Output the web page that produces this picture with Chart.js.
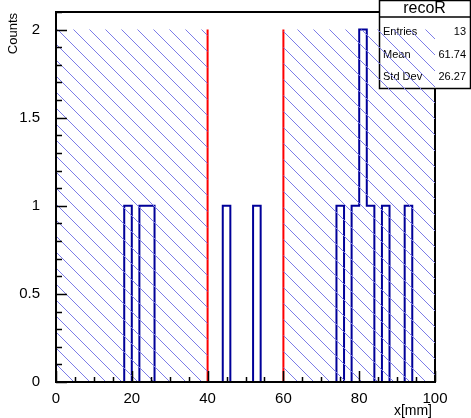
<!DOCTYPE html>
<html>
<head>
<meta charset="utf-8">
<script src="https://cdn.jsdelivr.net/npm/chart.js@4/dist/chart.umd.min.js"></script>
<style>
  html, body { margin: 0; padding: 0; background: #fff; }
  canvas { display: block; }
</style>
</head>
<body>
<canvas id="c" width="471" height="418"></canvas>
<script>
// histogram recoR: 50 bins of 2 mm over 0..100
const binWidth = 2;
const xMin = 0, xMax = 100;
const filledBinLow = [18, 22, 24, 44, 52, 74, 78, 80, 82, 86, 92];
const filledBinCounts = [1, 1, 1, 1, 1, 1, 1, 2, 1, 1, 1];

// hatched side bands and cut lines
const bandRanges = [[0, 40], [60, 100]];
const bandHeight = 2;
const cutLines = [40, 60];

const xTicks = [0, 20, 40, 60, 80, 100];
const yTicks = [0, 0.5, 1, 1.5, 2];

const statsTitle = 'recoR';
const statsLabels = ['Entries', 'Mean', 'Std Dev'];
const statsValues = ['13', '61.74', '26.27'];

const FONT = "'Liberation Sans', Arial, sans-serif";

// build step outline from the bins
const nBins = (xMax - xMin) / binWidth;
const counts = new Array(nBins).fill(0);
filledBinLow.forEach((lo, i) => { counts[Math.round((lo - xMin) / binWidth)] = filledBinCounts[i]; });
const histPoints = counts.map((c, i) => ({x: xMin + i * binWidth, y: c}));
histPoints.push({x: xMax, y: 0});

// diagonal hatch, 45 deg, 16 px apart
function makeHatch() {
  const t = document.createElement('canvas');
  t.width = 16; t.height = 16;
  const g = t.getContext('2d');
  g.fillStyle = '#7c7ce8';
  for (let i = 0; i < 16; i++) g.fillRect((i + 12) % 16, i, 1, 1);
  return g.createPattern(t, 'repeat');
}
const hatch = makeHatch();

const datasets = [];
bandRanges.forEach(([a, b]) => {
  datasets.push({
    data: [{x: a, y: bandHeight}, {x: b, y: bandHeight}],
    borderWidth: 0, borderColor: 'rgba(0,0,0,0)', backgroundColor: hatch,
    fill: 'origin', pointRadius: 0,
  });
});
datasets.push({
  data: histPoints, stepped: 'before', borderColor: '#000099', borderWidth: 2,
  fill: false, pointRadius: 0, borderJoinStyle: 'miter',
});
cutLines.forEach(x => {
  datasets.push({
    data: [{x: x, y: 0}, {x: x, y: bandHeight}],
    borderColor: '#ff0000', borderWidth: 2, fill: false, pointRadius: 0,
  });
});

const frame = {
  id: 'frame',
  beforeDatasetsDraw(chart) {
    const {ctx, chartArea: a} = chart;
    ctx.save();
    ctx.strokeStyle = '#000';
    ctx.lineWidth = 2;
    ctx.strokeRect(a.left, a.top, a.right - a.left, a.bottom - a.top);

    // stats box
    const bx = 379, by = 0, bw = 91, bh = 88, hh = 17;
    ctx.fillStyle = '#fff';
    ctx.fillRect(bx, by, bw, bh);
    ctx.lineWidth = 1.5;
    ctx.strokeRect(bx + 0.5, by + 0.5, bw, bh);
    ctx.beginPath();
    ctx.moveTo(bx, hh); ctx.lineTo(bx + bw, hh);
    ctx.stroke();
    ctx.fillStyle = '#000';
    ctx.font = '16px ' + FONT;
    ctx.textAlign = 'center';
    ctx.textBaseline = 'middle';
    ctx.fillText(statsTitle, bx + bw / 2, 9);
    ctx.font = '11px ' + FONT;
    statsLabels.forEach((lab, i) => {
      const y = 32 + i * 22.5;
      ctx.textAlign = 'left';
      ctx.fillText(lab, bx + 4, y);
      ctx.textAlign = 'right';
      ctx.fillText(statsValues[i], bx + 87, y);
    });
    ctx.restore();
  },
  afterDatasetsDraw(chart) {
    const {ctx, chartArea: a, scales: {x, y}} = chart;
    ctx.save();
    ctx.strokeStyle = '#000';
    ctx.lineWidth = 2;
    ctx.beginPath();
    ctx.moveTo(a.left, a.top); ctx.lineTo(a.left, a.bottom + 1);
    ctx.moveTo(a.left - 1, a.bottom); ctx.lineTo(a.right + 1, a.bottom);
    ctx.stroke();
    ctx.lineWidth = 1.5;
    ctx.beginPath();
    for (let v = 0; v <= 100; v += 5) {
      const px = Math.round(x.getPixelForValue(v)) + 0.5;
      const len = v % 20 === 0 ? 11 : 5;
      ctx.moveTo(px, a.bottom); ctx.lineTo(px, a.bottom - len);
    }
    for (let k = 0; k <= 21; k++) {
      const py = Math.round(y.getPixelForValue(k / 10)) + 0.5;
      const len = k % 5 === 0 ? 11 : 6;
      ctx.moveTo(a.left, py); ctx.lineTo(a.left + len, py);
    }
    ctx.stroke();

    ctx.fillStyle = '#000';
    ctx.font = '14px ' + FONT;
    ctx.textAlign = 'right';
    ctx.textBaseline = 'alphabetic';
    ctx.fillText('x[mm]', a.right - 3, 415);
    ctx.translate(17, a.top + 1);
    ctx.rotate(-Math.PI / 2);
    ctx.font = '13px ' + FONT;
    ctx.textAlign = 'right';
    ctx.fillText('Counts', 0, 0);
    ctx.restore();
  }
};

new Chart(document.getElementById('c'), {
  type: 'line',
  data: {datasets},
  options: {
    responsive: false,
    animation: false,
    devicePixelRatio: 1,
    layout: {padding: {top: 12, right: 36, left: 0, bottom: 0}},
    plugins: {legend: {display: false}, tooltip: {enabled: false}},
    scales: {
      x: {
        type: 'linear', min: xMin, max: xMax,
        grid: {display: false}, border: {display: false},
        afterBuildTicks: s => { s.ticks = xTicks.map(v => ({value: v})); },
        afterFit: s => { s.height = 36; s.paddingLeft = 0; s.paddingRight = 0; },
        ticks: {color: '#000', font: {family: FONT, size: 15}, padding: 0, maxRotation: 0,
                callback: v => String(v)},
      },
      y: {
        type: 'linear', min: 0, max: 2.1,
        grid: {display: false}, border: {display: false},
        afterBuildTicks: s => { s.ticks = yTicks.map(v => ({value: v})); },
        afterFit: s => { s.width = 56; s.paddingTop = 0; s.paddingBottom = 0; },
        ticks: {color: '#000', font: {family: FONT, size: 15}, padding: 8,
                callback: v => String(v)},
      },
    },
  },
  plugins: [frame],
});
</script>
</body>
</html>
